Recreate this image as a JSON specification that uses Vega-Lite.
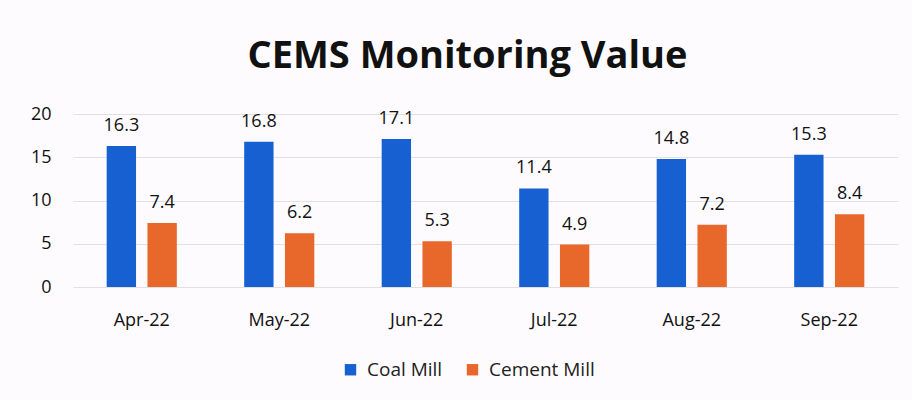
{
  "$schema": "https://vega.github.io/schema/vega-lite/v6.json",
  "autosize": "none",
  "width": 825,
  "height": 173,
  "padding": {"left": 73, "top": 114, "right": 14, "bottom": 113},
  "background": "#fdfbfd",
  "title": {
    "text": "CEMS Monitoring Value",
    "font": "Open Sans",
    "fontSize": 38,
    "fontWeight": "bold",
    "color": "#111111",
    "anchor": "middle",
    "dx": -18,
    "offset": 29
  },
  "config": {
    "view": {"stroke": null},
    "font": "Open Sans"
  },
  "data": {
    "values": [
      {"month": "Apr-22", "series": "Coal Mill", "value": 16.3},
      {"month": "Apr-22", "series": "Cement Mill", "value": 7.4},
      {"month": "May-22", "series": "Coal Mill", "value": 16.8},
      {"month": "May-22", "series": "Cement Mill", "value": 6.2},
      {"month": "Jun-22", "series": "Coal Mill", "value": 17.1},
      {"month": "Jun-22", "series": "Cement Mill", "value": 5.3},
      {"month": "Jul-22", "series": "Coal Mill", "value": 11.4},
      {"month": "Jul-22", "series": "Cement Mill", "value": 4.9},
      {"month": "Aug-22", "series": "Coal Mill", "value": 14.8},
      {"month": "Aug-22", "series": "Cement Mill", "value": 7.2},
      {"month": "Sep-22", "series": "Coal Mill", "value": 15.3},
      {"month": "Sep-22", "series": "Cement Mill", "value": 8.4}
    ]
  },
  "encoding": {
    "x": {
      "field": "month",
      "type": "nominal",
      "sort": null,
      "scale": {"paddingInner": 0.49, "paddingOuter": 0.245},
      "axis": {
        "title": null,
        "labelAngle": 0,
        "labelFontSize": 18,
        "labelColor": "#111111",
        "labelPadding": 24,
        "ticks": false,
        "domain": false
      }
    },
    "xOffset": {
      "field": "series",
      "type": "nominal",
      "sort": ["Coal Mill", "Cement Mill"],
      "scale": {"paddingInner": 0.28}
    },
    "y": {
      "field": "value",
      "type": "quantitative",
      "scale": {"domain": [0, 20]},
      "axis": {
        "title": null,
        "values": [0, 5, 10, 15, 20],
        "labelFontSize": 18,
        "labelColor": "#111111",
        "labelPadding": 22,
        "ticks": false,
        "domain": false,
        "gridColor": "#e2e0e2",
        "gridWidth": 1
      }
    }
  },
  "layer": [
    {
      "mark": {"type": "bar"},
      "encoding": {
        "color": {
          "field": "series",
          "type": "nominal",
          "sort": ["Coal Mill", "Cement Mill"],
          "scale": {"domain": ["Coal Mill", "Cement Mill"], "range": ["#1660d2", "#e8672a"]},
          "legend": {
            "title": null,
            "orient": "none",
            "direction": "horizontal",
            "legendX": 268,
            "legendY": 246,
            "symbolType": "square",
            "symbolSize": 130,
            "labelFontSize": 19,
            "labelColor": "#222222",
            "labelOffset": 7,
            "columnPadding": 20,
            "symbolStrokeWidth": 0
          }
        }
      }
    },
    {
      "mark": {"type": "text", "baseline": "bottom", "dy": -11, "fontSize": 18, "color": "#111111"},
      "encoding": {
        "text": {"field": "value", "type": "quantitative", "format": ".1f"}
      }
    }
  ]
}
